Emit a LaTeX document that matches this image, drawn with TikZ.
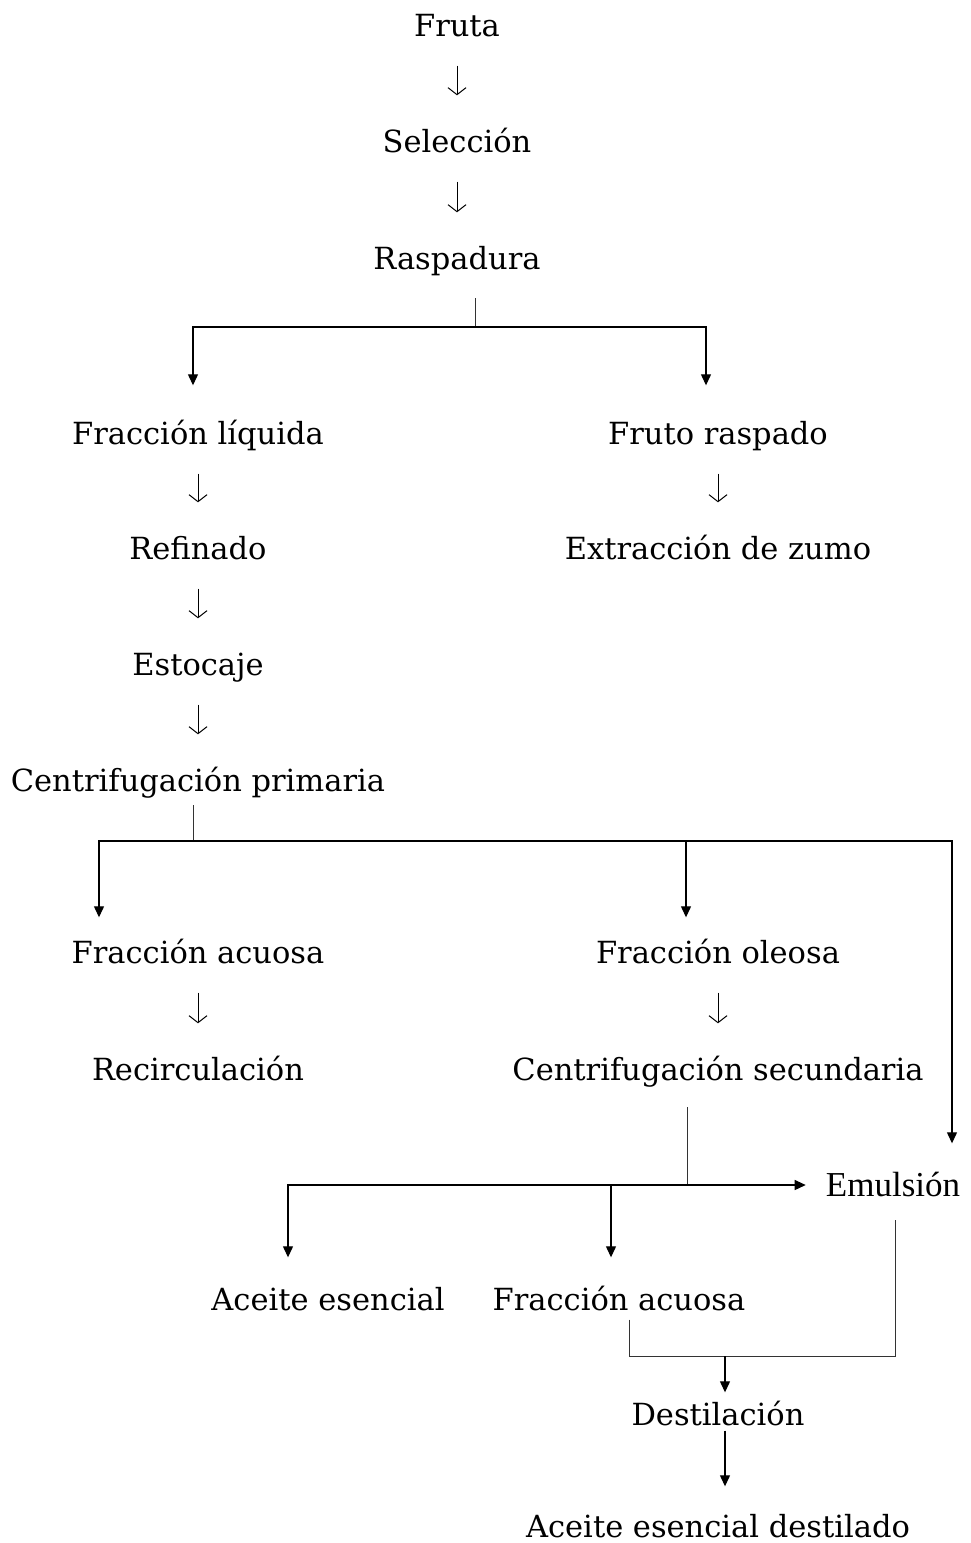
\documentclass[tikz,border=0pt]{standalone}
\usepackage{fontspec}
\setmainfont{DejaVu Serif}
\newfontfamily\emulfont{Liberation Serif}
\usetikzlibrary{arrows.meta,positioning}
\begin{document}
\begin{tikzpicture}[x=1pt,y=-1pt,
    etapa/.style={font=\fontsize{30.5}{36}\selectfont, inner sep=0pt, text height=26pt, text depth=3pt},
    baja/.style={line width=1pt, -{Straight Barb[length=7pt,width=18pt]}, shorten <=26pt, shorten >=31pt},
    linea/.style={line width=1.2pt},
    fina/.style={line width=0.7pt, black!80},
    flechaT/.style={line width=1.2pt, -{Triangle[length=11pt,width=10pt]}}]
  \useasboundingbox (0,0) rectangle (971,1543);
  \node[etapa] (fruta) at (457,25) {Fruta};
  \node[etapa] (seleccion) at (457,141) {Selección};
  \node[etapa] (raspadura) at (457,258) {Raspadura};
  \node[etapa] (liquida) at (198,433) {Fracción líquida};
  \node[etapa] (raspado) at (718,433) {Fruto raspado};
  \node[etapa] (refinado) at (198,548) {Refinado};
  \node[etapa] (zumo) at (718,548) {Extracción de zumo};
  \node[etapa] (estocaje) at (198,664) {Estocaje};
  \node[etapa] (primaria) at (198,780) {Centrifugación primaria};
  \node[etapa] (acuosaA) at (198,952) {Fracción acuosa};
  \node[etapa] (oleosa) at (718,952) {Fracción oleosa};
  \node[etapa] (recirc) at (198,1069) {Recirculación};
  \node[etapa] (secundaria) at (718,1069) {Centrifugación secundaria};
  \node[etapa, font=\emulfont\fontsize{35}{40}\selectfont] (emulsion) at (893,1185) {Emulsión};
  \node[etapa] (aceite) at (328,1299) {Aceite esencial};
  \node[etapa] (acuosaB) at (619,1299) {Fracción acuosa};
  \node[etapa] (destilacion) at (718,1414) {Destilación};
  \node[etapa] (destilado) at (718,1526) {Aceite esencial destilado};

  \draw[baja] (fruta.south) -- (seleccion.north);
  \draw[baja] (seleccion.south) -- (raspadura.north);
  \draw[baja] (liquida.south) -- (refinado.north);
  \draw[baja] (raspado.south) -- (zumo.north);
  \draw[baja] (refinado.south) -- (estocaje.north);
  \draw[baja] (estocaje.south) -- (primaria.north);
  \draw[baja] (acuosaA.south) -- (recirc.north);
  \draw[baja] (oleosa.south) -- (secundaria.north);

  \coordinate (r) at (475,327);
  \draw[fina] (r) -- ++(0,-29);
  \draw[flechaT] (r) -| ([xshift=-5pt,yshift=33pt]liquida.north);
  \draw[flechaT] (r) -| ([xshift=-12pt,yshift=33pt]raspado.north);

  \coordinate (p) at (193,841);
  \draw[fina] (p) -- ++(0,-36);
  \draw[flechaT] (p) -| ([xshift=-99pt,yshift=20pt]acuosaA.north);
  \draw[flechaT] (p) -| ([xshift=-32pt,yshift=20pt]oleosa.north);
  \draw[flechaT] (p) -| ([xshift=59pt,yshift=27pt]emulsion.north);

  \coordinate (s) at (687,1185);
  \draw[fina] (s) -- ++(0,-78);
  \draw[flechaT] (s) -- ([xshift=-20pt]emulsion.west);
  \draw[flechaT] (s) -| ([xshift=-40pt,yshift=27pt]aceite.north);
  \draw[flechaT] (s) -| ([xshift=-8pt,yshift=27pt]acuosaB.north);

  \coordinate (d) at (725,1356);
  \draw[fina] ([xshift=10pt,yshift=-6pt]acuosaB.south) |- (d) -| ([xshift=2pt,yshift=-20pt]emulsion.south);
  \draw[flechaT] (d) -- ([xshift=7pt,yshift=7pt]destilacion.north);
  \draw[flechaT] ([xshift=7pt,yshift=-2pt]destilacion.south) -- ([xshift=7pt,yshift=25pt]destilado.north);
\end{tikzpicture}
\end{document}
